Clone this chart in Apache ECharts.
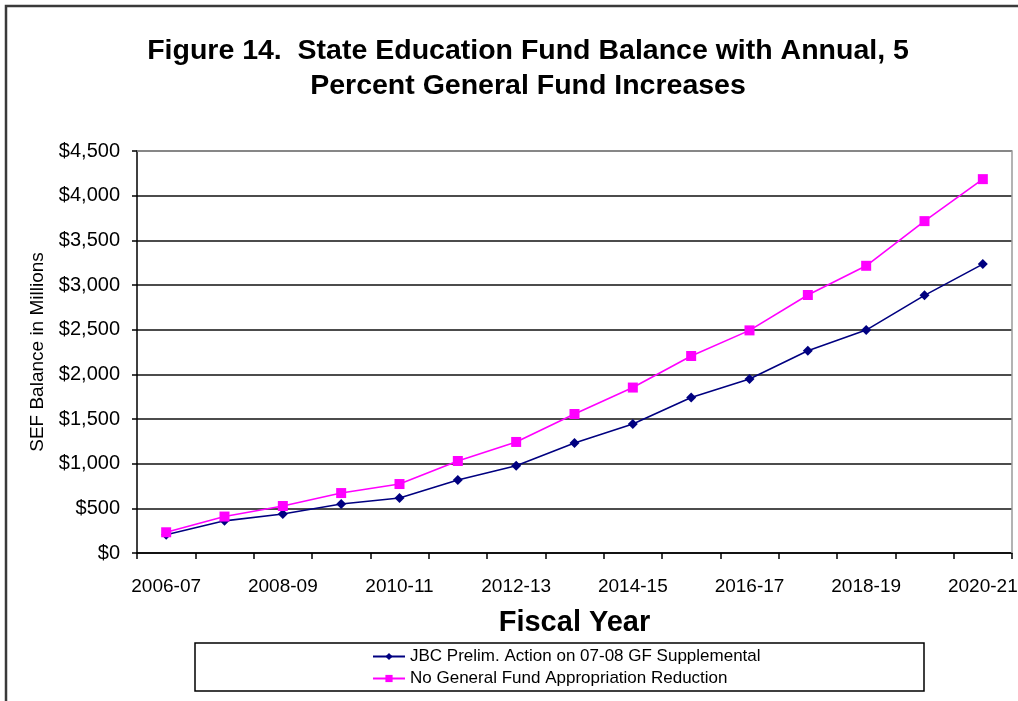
<!DOCTYPE html>
<html>
<head>
<meta charset="utf-8">
<script src="https://cdn.jsdelivr.net/npm/echarts@6/dist/echarts.min.js"></script>
<style>
  html, body { margin: 0; padding: 0; background: #fff; }
  #chart { width: 1018px; height: 701px; }
</style>
</head>
<body>
<div id="chart"></div>
<script>
// Fiscal years on the category axis
const fiscalYears = ['2006-07', '2007-08', '2008-09', '2009-10', '2010-11', '2011-12', '2012-13',
  '2013-14', '2014-15', '2015-16', '2016-17', '2017-18', '2018-19', '2019-20', '2020-21'];

// SEF balance, $ millions
const jbcPrelimAction = [205, 360, 436, 548, 615, 817, 977, 1231, 1444, 1740, 1947, 2264, 2495, 2884, 3234];
const noGFReduction = [232, 408, 526, 671, 772, 1030, 1243, 1556, 1852, 2205, 2492, 2888, 3215, 3715, 4185];

const seriesNames = ['JBC Prelim. Action on 07-08 GF Supplemental', 'No General Fund Appropriation Reduction'];

const chart = echarts.init(document.getElementById('chart'), null, { renderer: 'canvas' });
const font = 'Arial, "Liberation Sans", sans-serif';

chart.setOption({
  animation: false,
  backgroundColor: '#fff',
  title: {
    text: 'Figure 14.  State Education Fund Balance with Annual, 5\nPercent General Fund Increases',
    left: 523,
    top: 29,
    textAlign: 'center',
    textStyle: { fontFamily: font, fontSize: 28.5, fontWeight: 'bold', color: '#000', lineHeight: 35 }
  },
  grid: { left: 137, right: 6, top: 151, bottom: 148, show: false, outerBoundsMode: 'none', containLabel: false },
  legend: {
    orient: 'vertical',
    left: 367,
    top: 643,
    itemGap: 5,
    itemWidth: 32,
    itemHeight: 9,
    textStyle: { fontFamily: font, fontSize: 17, color: '#000' },
    data: seriesNames
  },
  xAxis: {
    type: 'category',
    data: fiscalYears,
    boundaryGap: true,
    name: 'Fiscal Year',
    nameLocation: 'middle',
    nameGap: 55,
    nameTextStyle: { fontFamily: font, fontSize: 29, fontWeight: 'bold', color: '#000' },
    axisLine: { lineStyle: { color: '#000', width: 1.5 } },
    axisTick: { show: true, interval: 0, length: 6, lineStyle: { color: '#000', width: 1.5 } },
    axisLabel: { interval: 1, margin: 24, fontFamily: font, fontSize: 19, color: '#000' },
    splitLine: { show: false }
  },
  yAxis: {
    type: 'value',
    min: 0,
    max: 4500,
    interval: 500,
    name: 'SEF Balance in Millions',
    nameLocation: 'middle',
    nameGap: 90,
    nameTextStyle: { fontFamily: font, fontSize: 19, color: '#000' },
    axisLine: { show: true, lineStyle: { color: '#000', width: 1.5 } },
    axisTick: { show: true, length: 5, lineStyle: { color: '#000', width: 1.5 } },
    axisLabel: {
      margin: 17,
      fontFamily: font,
      fontSize: 20,
      color: '#000',
      formatter: v => '$' + v.toLocaleString('en-US')
    },
    splitLine: { show: true, lineStyle: { color: '#111', width: 1.5 } }
  },
  series: [
    {
      name: seriesNames[0],
      type: 'line',
      data: jbcPrelimAction,
      symbol: 'diamond',
      symbolSize: 10,
      lineStyle: { color: '#000080', width: 1.6 },
      itemStyle: { color: '#000080' },
      z: 3
    },
    {
      name: seriesNames[1],
      type: 'line',
      data: noGFReduction,
      symbol: 'rect',
      symbolSize: 10,
      lineStyle: { color: '#FF00FF', width: 1.6 },
      itemStyle: { color: '#FF00FF' },
      z: 4
    }
  ],
  graphic: [
    // outer frame of the chart area
    {
      type: 'rect',
      shape: { x: 6, y: 6, width: 1100, height: 800 },
      style: { fill: 'none', stroke: '#3a3a3a', lineWidth: 2.5 },
      silent: true
    },
    // plot area top and right edges
    {
      type: 'polyline',
      shape: { points: [[137, 151], [1012, 151], [1012, 553]] },
      style: { fill: 'none', stroke: '#9a9a9a', lineWidth: 1.5 },
      silent: true,
      z: 1
    },
    // legend box
    {
      type: 'rect',
      shape: { x: 195, y: 643, width: 729, height: 48 },
      style: { fill: 'none', stroke: '#000', lineWidth: 1.5 },
      silent: true
    }
  ]
});
</script>
</body>
</html>
